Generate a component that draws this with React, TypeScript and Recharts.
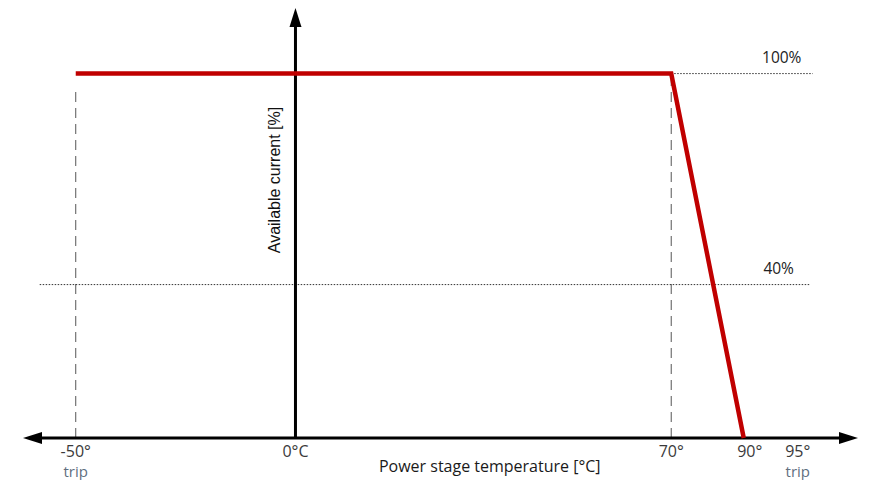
import { LineChart, Line, XAxis, YAxis, ReferenceLine } from 'recharts'

// Derating-Kurve: Temperatur [°C] -> verfügbarer Strom [%]
const curveTemps = [-50, 70, 90]
const curveCurrent = [100, 100, 0]

// Achsenbeschriftung (die Skizze ist nicht maßstäblich)
const tickTemps = [-50, 0, 70, 90, 95]
const tickLabels = ['-50°', '0°C', '70°', '90°', '95°']
const tickNotes = ['trip', '', '', '', 'trip']
const tickPos = [-50, 0, 85.5, 102, 114.3]

// Stromniveaus und ihre Lage in der Skizze
const levelValues = [0, 40, 100]
const levelPos = [0, 42.1, 100]
const levelLabels = ['', '40%', '100%']

// Hilfslinien: Temperaturen mit gestrichelter Senkrechten
const guideTemps = [-50, 70]
const guideTop = [96.4, 100]

function interp(v: number, from: number[], to: number[]) {
  for (let i = 0; i < from.length - 1; i++) {
    if (v >= from[i] && v <= from[i + 1]) {
      const f = (v - from[i]) / (from[i + 1] - from[i])
      return to[i] + f * (to[i + 1] - to[i])
    }
  }
  return v < from[0] ? to[0] : to[to.length - 1]
}
const tPos = (t: number) => interp(t, tickTemps, tickPos)
const cPos = (c: number) => interp(c, levelValues, levelPos)

const data = curveTemps.map((t, i) => ({ x: tPos(t), y: cPos(curveCurrent[i]) }))

const FONT = '"Open Sans", sans-serif'

function TempTick({ x, y, index }: any) {
  // die 90°-Beschriftung steht im Original etwas rechts vom Kurvenende
  const dx = index === 3 ? 6 : 0
  return (
    <g>
      <text x={x + dx} y={y + 11} textAnchor="middle" fontFamily={FONT} fontSize={16} fill="#3a3a3a">
        {tickLabels[index]}
      </text>
      {tickNotes[index] && (
        <text x={x} y={y + 31} textAnchor="middle" fontFamily={FONT} fontSize={15} fill="#5f6f7f">
          {tickNotes[index]}
        </text>
      )}
    </g>
  )
}

// X-Achse mit Pfeilen an beiden Enden
function XArrow({ x1, y1, x2 }: any) {
  const h = 19
  const w = 6
  return (
    <g>
      <line x1={x1 + h - 2} y1={y1} x2={x2 - h + 2} y2={y1} stroke="#000" strokeWidth={3} />
      <polygon points={`${x1},${y1} ${x1 + h},${y1 - w} ${x1 + h},${y1 + w}`} fill="#000" />
      <polygon points={`${x2},${y1} ${x2 - h},${y1 - w} ${x2 - h},${y1 + w}`} fill="#000" />
    </g>
  )
}

// Y-Achse mit Pfeil nach oben und Titel
function YArrow({ x1, y1, y2 }: any) {
  const top = Math.min(y1, y2)
  const bottom = Math.max(y1, y2)
  const h = 19
  const w = 6
  const ly = 180
  return (
    <g>
      <line x1={x1} y1={top + h - 2} x2={x1} y2={bottom} stroke="#000" strokeWidth={3} />
      <polygon points={`${x1},${top} ${x1 - w},${top + h} ${x1 + w},${top + h}`} fill="#000" />
      <text
        x={x1 - 21}
        y={ly}
        transform={`rotate(-90 ${x1 - 21} ${ly})`}
        textAnchor="middle"
        dominantBaseline="central"
        fontFamily='"Liberation Sans", Arial, sans-serif'
        fontSize={16}
        fill="#111"
      >
        Available current [%]
      </text>
    </g>
  )
}

function LevelLine(label: string) {
  return ({ x1, y1, x2 }: any) => (
    <g>
      <line x1={x1} y1={y1} x2={x2} y2={y1} stroke="#333" strokeWidth={1} strokeDasharray="1.5 1.5" />
      <text x={x2 - 31} y={y1 - 11} textAnchor="middle" fontFamily={FONT} fontSize={15.5} fill="#222">
        {label}
      </text>
    </g>
  )
}

export default function App() {
  return (
    <div style={{ position: 'absolute', left: 0, top: 0, background: '#fff' }}>
      <LineChart width={872} height={480} data={data} margin={{ top: 8, right: 14, bottom: 0, left: 23 }}>
        <XAxis
          dataKey="x"
          type="number"
          domain={[-62, 128]}
          ticks={tickPos}
          interval={0}
          tickLine={false}
          axisLine={false}
          height={42}
          tick={<TempTick />}
          label={{
            content: ({ viewBox }: any) => (
              <text
                x={viewBox.x + viewBox.width * 0.559}
                y={viewBox.y + 34}
                textAnchor="middle"
                fontFamily={FONT}
                fontSize={16}
                fill="#1a1a1a"
              >
                Power stage temperature [°C]
              </text>
            ),
          }}
        />
        <YAxis type="number" domain={[0, 118]} hide />

        {/* gestrichelte Senkrechten bei -50° und 70° */}
        {guideTemps.map((t, i) => (
          <ReferenceLine
            key={t}
            segment={[
              { x: tPos(t), y: 0 },
              { x: tPos(t), y: guideTop[i] },
            ]}
            stroke="#555"
            strokeWidth={1}
            strokeDasharray="10 6"
          />
        ))}

        {/* punktierte Niveaus 40% und 100% */}
        <ReferenceLine
          segment={[
            { x: -58.2, y: cPos(40) },
            { x: 117, y: cPos(40) },
          ]}
          shape={LevelLine(levelLabels[1])}
        />
        <ReferenceLine
          segment={[
            { x: tPos(70), y: cPos(100) },
            { x: 117.7, y: cPos(100) },
          ]}
          shape={LevelLine(levelLabels[2])}
        />

        <ReferenceLine y={0} shape={<XArrow />} />
        <ReferenceLine x={0} shape={(p: any) => <YArrow {...p} />} />

        <Line
          type="linear"
          dataKey="y"
          stroke="#c00000"
          strokeWidth={4.5}
          dot={false}
          isAnimationActive={false}
        />
      </LineChart>
    </div>
  )
}
